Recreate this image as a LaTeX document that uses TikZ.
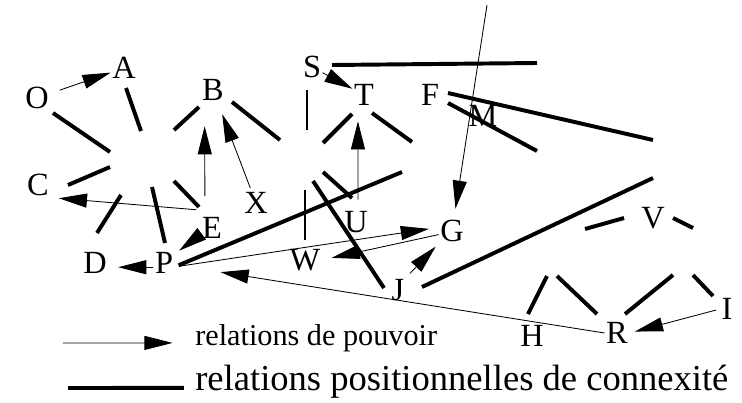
\documentclass[tikz,border=0pt]{standalone}
\usepackage{fontspec}
\setmainfont{Liberation Serif}
\usepackage{tikz}
\usetikzlibrary{arrows.meta}
\tikzset{
  lbl/.style={font=\fontsize{23}{26}\selectfont, inner sep=1pt},
  powrel/.style={-{Triangle[length=20pt,width=10pt]}, line width=0.6pt},
  posrel/.style={line width=2.8pt},
  posthin/.style={line width=1.3pt}}

\begin{document}
\begin{tikzpicture}[x=0.025cm, y=-0.025cm]
      \useasboundingbox (0,0) rectangle (742,402);
      % actors
      \node[lbl] (O) at (37,98) {O};
      \node[lbl] (A) at (124,68) {A};
      \node[lbl] (B) at (213,90) {B};
      \node[lbl] (C) at (38,185) {C};
      \node[lbl] (S) at (312,67) {S};
      \node[lbl] (T) at (364,95) {T};
      \node[lbl] (F) at (430,95) {F};
      \node[lbl] (M) at (483,116) {M};
      \node[lbl] (X) at (256,203) {X};
      \node[lbl] (E) at (212,228) {E};
      \node[lbl] (U) at (356,222) {U};
      \node[lbl] (G) at (452,231) {G};
      \node[lbl] (W) at (305,260) {W};
      \node[lbl] (D) at (95,263) {D};
      \node[lbl] (P) at (164,263) {P};
      \node[lbl] (J) at (398,290) {J};
      \node[lbl] (V) at (653,218) {V};
      \node[lbl] (H) at (532,336) {H};
      \node[lbl] (R) at (617,333) {R};
      \node[lbl] (I) at (727,309) {I};
      \coordinate (gtop) at (487,5);
      % relations de pouvoir
      \draw[powrel, shorten <=7pt] (O) -- (A);
      \draw[powrel] (S) -- (T);
      \draw[powrel, shorten <=14pt, shorten >=17pt] ([xshift=-5pt]E.north) -- ([xshift=-6pt]B.south);
      \draw[powrel, shorten <=2pt, shorten >=9pt] (X) -- (B);
      \draw[powrel, shorten <=3pt, shorten >=6pt] ([yshift=4pt]E.north west) -- (C.south east);
      \draw[powrel, shorten >=4pt] (E.210) -- (P.40);
      \draw[powrel, shorten >=7pt] ([yshift=-3pt]P.west) -- ([yshift=-3pt]D.east);
      \draw[powrel, shorten <=7pt, shorten >=10pt] ([xshift=1.4pt]U.north) -- ([xshift=-4.3pt]T.south);
      \draw[powrel, shorten >=7pt] (gtop) -- (G);
      \draw[powrel, shorten <=3pt, shorten >=7pt] (P.340) -- (G.165);
      \draw[powrel, shorten >=7pt] (G.195) -- (W.east);
      \draw[powrel, shorten <=4pt, shorten >=3pt] (J.north east) -- (G.south west);
      \draw[powrel, shorten >=33pt] (R.west) -- (P.350);
      \draw[powrel, shorten <=3pt, shorten >=4pt] (I.west) -- (R.east);
      % relations positionnelles
      \draw[posrel] (53,113) -- (110,152);
      \draw[posrel] (126,88) -- (141,131);
      \draw[posrel] (68,185) -- (110,167);
      \draw[posrel] (174,130) -- (199,107);
      \draw[posrel] (174,181) -- (199,207);
      \draw[posrel] (152,187) -- (165,243);
      \draw[posrel] (121,195) -- (97,233);
      \draw[posrel] (232,102) -- (280,140);
      \draw[posrel] (332,65) -- (537,63);
      \draw[posrel] (352,114) -- (323,143);
      \draw[posrel] (372,113) -- (412,142);
      \draw[posrel] (448,93) -- (653,140);
      \draw[posrel] (448,103) -- (537,151);
      \draw[posrel, shorten <=3pt] (P.340) -- (402,172);
      \draw[posrel] (323,172) -- (352,198);
      \draw[posrel] (313,181) -- (384,288);
      \draw[posrel] (422,287) -- (653,178);
      \draw[posrel] (585,229) -- (624,218);
      \draw[posrel] (673,218) -- (693,228);
      \draw[posrel] (528,314) -- (547,276);
      \draw[posrel] (557,276) -- (597,314);
      \draw[posrel] (625,314) -- (673,275);
      \draw[posrel] (693,275) -- (713,296);
      \draw[posthin] (307,90) -- (307,130);
      \draw[posthin] (305,190) -- (305,240);
      % legende
      \coordinate (lgpow) at (63,343);
      \coordinate (lgpos) at (68,388);
      \node[anchor=base west, inner sep=0pt, font=\fontsize{21.5}{24}\selectfont] (lpow) at (195,345) {relations de pouvoir};
      \node[anchor=base west, inner sep=0pt, font=\fontsize{26}{28}\selectfont] (lpos) at (195,390) {relations positionnelles de connexité};
      \draw[powrel, shorten >=16pt] (lgpow) -- ([yshift=1.5pt]lpow.base west);
      \draw[posrel, shorten >=8pt] (lgpos) -- ([yshift=1.5pt]lpos.base west);
    \end{tikzpicture}
\end{document}
